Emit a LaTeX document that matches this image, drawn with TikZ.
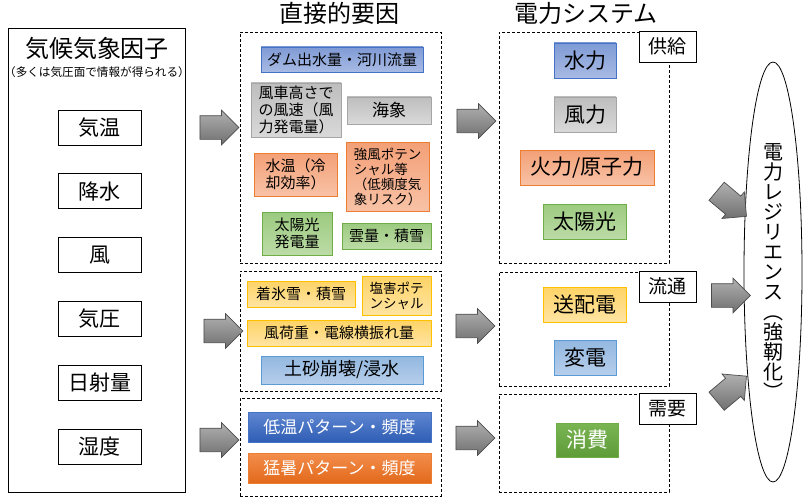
\documentclass[tikz,border=0pt]{standalone}
\usepackage{fontspec}
\setmainfont{Noto Sans CJK JP}
\usepackage{tikz}
\usetikzlibrary{positioning,chains,shapes.arrows,shapes.geometric}

\definecolor{blueT}{HTML}{7F9BD5}\definecolor{blueB}{HTML}{A8BAE4}\definecolor{blueE}{HTML}{4472C4}
\definecolor{greyT}{HTML}{BEBEBE}\definecolor{greyB}{HTML}{D9D9D9}\definecolor{greyE}{HTML}{A5A5A5}
\definecolor{salmT}{HTML}{F3A077}\definecolor{salmB}{HTML}{F8C2A6}\definecolor{salmE}{HTML}{ED7D31}
\definecolor{grnT}{HTML}{9CCA80}\definecolor{grnB}{HTML}{BCDCA6}\definecolor{grnE}{HTML}{70AD47}
\definecolor{goldT}{HTML}{FFD466}\definecolor{goldB}{HTML}{FFE4A2}\definecolor{goldE}{HTML}{FFC000}
\definecolor{skyT}{HTML}{93B8E0}\definecolor{skyB}{HTML}{B6CEEB}\definecolor{skyE}{HTML}{5B9BD5}
\definecolor{navyT}{HTML}{5F86D1}\definecolor{navyB}{HTML}{2F5EB5}
\definecolor{rustT}{HTML}{F38E4C}\definecolor{rustB}{HTML}{E2691B}
\definecolor{leafT}{HTML}{7AB553}\definecolor{leafB}{HTML}{5E9C38}
\definecolor{arrT}{HTML}{B0B0B0}\definecolor{arrB}{HTML}{707070}

\newcommand{\fsz}[2]{\fontsize{#1}{#2}\selectfont}

\begin{document}
\begin{tikzpicture}[x=1pt, y=-1pt, start chain=going below, node distance=28pt,
	factor/.style={draw, on chain, line width=0.8pt, minimum width=83pt, minimum height=35pt, font=\fsz{21}{24}},
	frame/.style={draw, dash pattern=on 3pt off 2pt, line width=0.8pt},
	tag/.style={draw, fill=white, line width=0.8pt, minimum width=57pt, minimum height=31pt, font=\fsz{19}{21}},
	box/.style={line width=0.9pt, inner sep=1pt, font=\fsz{15}{17}},
	plant/.style={box, minimum height=35pt, font=\fsz{21}{23}},
	bluebox/.style={top color=blueT, bottom color=blueB, draw=blueE},
	greybox/.style={top color=greyT, bottom color=greyB, draw=greyE},
	salmonbox/.style={top color=salmT, bottom color=salmB, draw=salmE},
	greenbox/.style={top color=grnT, bottom color=grnB, draw=grnE},
	goldbox/.style={top color=goldT, bottom color=goldB, draw=goldE},
	skybox/.style={top color=skyT, bottom color=skyB, draw=skyE},
	navybox/.style={top color=navyT, bottom color=navyB, draw=blueE, text=white},
	rustbox/.style={top color=rustT, bottom color=rustB, draw=salmE, text=white},
	leafbox/.style={top color=leafT, bottom color=leafB, draw=grnE, text=white},
	fat/.style={single arrow, draw=black!70, line width=0.7pt, top color=arrT, bottom color=arrB, inner xsep=0pt, inner ysep=11.5pt, single arrow head extend=5.5pt, minimum height=39pt}]
	\useasboundingbox (0,0) rectangle (809,503);

	% climate factors
	\node (climate) [draw, line width=0.8pt, minimum width=177pt, minimum height=464pt] at (96.5,260) {};
	\node (ctitle) at (97,48) [font=\fsz{24}{24}] {気候気象因子};
	\node (csub) at (97,72) [font=\fsz{11.6}{12}] {（多くは気圧面で情報が得られる）};
	\node (kion) [factor] at (99.5,127.5) {気温};
	\node (kousui) [factor] {降水};
	\node (kaze) [factor] {風};
	\node (kiatsu) [factor] {気圧};
	\node (nissha) [factor] {日射量};
	\node (shitsudo) [factor] {湿度};

	\node (t1) at (339.5,13) [font=\fsz{24}{24}] {直接的要因};
	\node (t2) at (586,13) [font=\fsz{24}{24}] {電力システム};

	\node (direct) [frame, minimum width=201pt, minimum height=231pt] at (340.5,147.5) {};
	\node (infra) [frame, minimum width=201pt, minimum height=120pt] at (340.5,331) {};
	\node (pattern) [frame, minimum width=201pt, minimum height=98pt] at (340.5,447) {};

	\node (dam) [box, bluebox, minimum width=162pt, minimum height=25pt] at (342,59.5) {ダム出水量・河川流量};
	\node (hubwind) [box, greybox, minimum width=90pt, minimum height=54pt, align=left] at (296,110) {風車高さで\\の風速（風\\力発電量）};
	\node (ocean) [box, greybox, minimum width=84pt, minimum height=27pt, font=\fsz{17}{19}] at (389,110.5) {海象};
	\node (wtemp) [box, salmonbox, minimum width=83pt, minimum height=43pt, align=left] at (295.5,174.5) {水温（冷\\却効率）};
	\node (gust) [box, salmonbox, minimum width=83pt, minimum height=69pt, align=left, font=\fsz{13.5}{15}] at (387.5,176.5) {強風ポテン\\シャル等\\（低頻度気\\象リスク）};
	\node (pvgen) [box, greenbox, minimum width=70pt, minimum height=43pt, align=center] at (297,233.5) {太陽光\\発電量};
	\node (cloud) [box, greenbox, minimum width=89pt, minimum height=26pt] at (386.5,236) {雲量・積雪};

	\node (icing) [box, goldbox, minimum width=108pt, minimum height=26pt] at (301,294) {着氷雪・積雪};
	\node (salt) [box, goldbox, minimum width=69pt, minimum height=39pt, align=left, font=\fsz{13.5}{15}] at (396.5,295.5) {塩害ポテ\\ンシャル};
	\node (windload) [box, goldbox, minimum width=184pt, minimum height=26pt] at (339,333) {風荷重・電線横振れ量};
	\node (slide) [box, skybox, minimum width=162pt, minimum height=28pt, font=\fsz{18}{20}] at (342,370) {土砂崩壊/浸水};

	\node (cold) [box, navybox, minimum width=183pt, minimum height=30pt, font=\fsz{17}{19}] at (339.5,427) {低温パターン・頻度};
	\node (heat) [box, rustbox, minimum width=183pt, minimum height=30pt, font=\fsz{17}{19}] at (339.5,468) {猛暑パターン・頻度};

	% power system
	\node (supply) [frame, minimum width=170pt, minimum height=231pt] at (584,147.5) {};
	\node (grid) [frame, minimum width=170pt, minimum height=114pt] at (584,329) {};
	\node (demand) [frame, minimum width=170pt, minimum height=98pt] at (584,443) {};
	\node (tsupply) [tag] at (667.5,46.5) {供給};
	\node (tgrid) [tag] at (667.5,286.5) {流通};
	\node (tdemand) [tag] at (667.5,408.5) {需要};

	\node (hydro) [plant, bluebox, minimum width=62pt] at (585,60.5) {水力};
	\node (windp) [plant, greybox, minimum width=62pt] at (585,114.5) {風力};
	\node (thermal) [plant, salmonbox, minimum width=134pt] at (587,167.5) {火力/原子力};
	\node (solar) [plant, greenbox, minimum width=83pt] at (584.5,221.5) {太陽光};
	\node (tnd) [plant, goldbox, minimum width=83pt] at (584.5,304.5) {送配電};
	\node (subst) [plant, skybox, minimum width=62pt] at (585,357.5) {変電};
	\node (use) [plant, leafbox, minimum width=62pt, minimum height=34pt] at (587,440) {消費};

	\node (resil) [draw, ellipse, line width=0.8pt, minimum width=58pt, minimum height=420pt, inner sep=0pt, align=center, font=\fsz{20}{20}] at (773,272) {電\\力\\レ\\ジ\\リ\\エ\\ン\\ス\\︵\\強\\靭\\化\\︶};

	% block arrows
	\node (f1) [fat] at (213.5,127.5) {};
	\node (f2) [fat] at (217.5,331) {};
	\node (f3) [fat] at (213.5,440) {};
	\node (s1) [fat] at (470.5,121) {};
	\node (s2) [fat] at (469.5,326) {};
	\node (s3) [fat] at (469.5,438) {};
	\node (r1) [fat, rotate=-40] at (727,200) {};
	\node (r2) [fat] at (725,295.5) {};
	\node (r3) [fat, rotate=40] at (727,392.5) {};
\end{tikzpicture}
\end{document}
